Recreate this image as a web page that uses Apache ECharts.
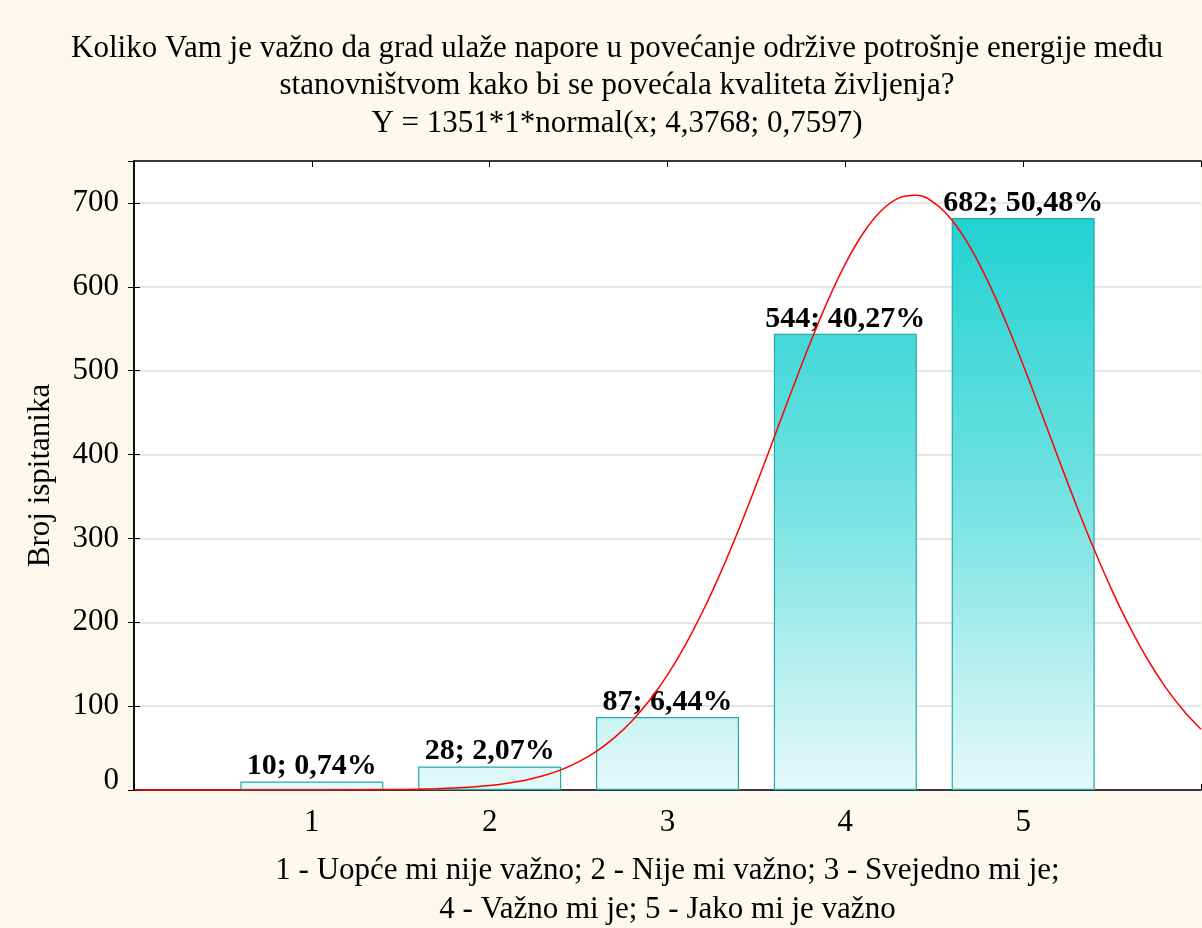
<!DOCTYPE html>
<html>
<head>
<meta charset="utf-8">
<script src="https://cdn.jsdelivr.net/npm/echarts@6/dist/echarts.min.js"></script>
<style>
  html, body { margin: 0; padding: 0; background: #fdf8ee; }
  #chart { width: 1202px; height: 928px; }
</style>
</head>
<body>
<div id="chart"></div>
<script>
// odgovori (1-5) i broj ispitanika
const categories = [1, 2, 3, 4, 5];
const counts = [10, 28, 87, 544, 682];
const percents = ['0,74', '2,07', '6,44', '40,27', '50,48'];

// normalna krivulja, ocitano sa slike: Y = 1351*1*normal(x; 4,3768; 0,7597)
const curveX = [0, 1.0, 1.5, 1.6, 1.7, 1.8, 1.9, 2.0, 2.1, 2.2, 2.3, 2.4, 2.5, 2.6, 2.7, 2.8, 2.9,
  3.0, 3.1, 3.2, 3.3, 3.4, 3.5, 3.6, 3.7, 3.8, 3.9, 4.0, 4.1, 4.2, 4.3, 4.4, 4.5, 4.6, 4.7, 4.8, 4.9,
  5.0, 5.1, 5.2, 5.3, 5.4, 5.5, 5.6, 5.7, 5.8, 5.9, 6.0];
const curveY = [0, 0.04, 0.55, 0.89, 1.43, 2.25, 3.49, 5.31, 7.96, 11.7, 16.9, 24.0, 33.6, 46.0, 62.1, 82.3, 107.3,
  137.3, 172.8, 213.7, 259.8, 310.4, 364.5, 420.6, 477.0, 531.8, 582.6, 627.3, 663.8, 690.4, 705.8, 709.1, 700.1, 679.4, 648.0, 607.4, 559.6,
  506.7, 450.9, 394.4, 339.0, 286.4, 237.8, 194.1, 155.6, 122.7, 95.0, 72.4];

const yTicks = [0, 100, 200, 300, 400, 500, 600, 700];

const FONT = 'Liberation Serif';

const chart = echarts.init(document.getElementById('chart'));

const barFill = {
  type: 'linear', x: 0, y: 160, x2: 0, y2: 790, global: true,
  colorStops: [
    { offset: 0, color: '#0fcfcf' },
    { offset: 0.5, color: '#6ce0e0' },
    { offset: 1, color: '#e6f9f9' }
  ]
};

const option = {
  backgroundColor: '#fdf8ee',
  animation: false,
  title: {
    text: 'Koliko Vam je važno da grad ulaže napore u povećanje održive potrošnje energije među\nstanovništvom kako bi se povećala kvaliteta življenja?\nY = 1351*1*normal(x; 4,3768; 0,7597)',
    left: 612,
    top: 25,
    textAlign: 'center',
    textStyle: {
      fontFamily: FONT,
      fontSize: 31,
      fontWeight: 'normal',
      color: '#000',
      lineHeight: 37.5
    }
  },
  grid: {
    left: 134, top: 161, right: 1, bottom: 138,
    outerBoundsMode: 'none',
    containLabel: false,
    show: true, backgroundColor: '#fff', borderWidth: 0
  },
  xAxis: [{
    type: 'value', min: 0, max: 6, interval: 1,
    name: '1 - Uopće mi nije važno; 2 - Nije mi važno; 3 - Svejedno mi je;\n4 - Važno mi je; 5 - Jako mi je važno',
    nameLocation: 'middle',
    nameGap: 61,
    nameTextStyle: { fontFamily: FONT, fontSize: 31, color: '#000', lineHeight: 39 },
    axisLine: { show: true, lineStyle: { color: '#000', width: 1.5 } },
    axisTick: { show: true, inside: true, length: 6, lineStyle: { color: '#000' } },
    splitLine: { show: false },
    axisLabel: {
      fontFamily: FONT, fontSize: 31, color: '#000', margin: 17,
      formatter: v => categories.indexOf(v) >= 0 ? String(v) : ''
    }
  }, {
    type: 'value', min: 0, max: 6, interval: 1, position: 'top',
    axisLine: { show: true, onZero: false, lineStyle: { color: '#000', width: 1.5 } },
    axisTick: { show: true, inside: true, length: 6, lineStyle: { color: '#000' } },
    axisLabel: { show: false },
    splitLine: { show: false }
  }],
  yAxis: [{
    type: 'value', min: 0, max: 750, interval: 100,
    name: 'Broj ispitanika',
    nameLocation: 'middle',
    nameGap: 78,
    nameTextStyle: { fontFamily: FONT, fontSize: 31, color: '#000' },
    axisLine: { show: true, lineStyle: { color: '#000', width: 1.5 } },
    axisTick: { show: true, inside: true, length: 6, lineStyle: { color: '#000' } },
    splitLine: { show: true, lineStyle: { color: '#dcdcdc', width: 1.5 } },
    axisLabel: {
      fontFamily: FONT, fontSize: 31, color: '#000', margin: 15,
      showMaxLabel: false,
      formatter: v => {
        if (yTicks.indexOf(v) < 0) return '';
        return v === 0 ? '{z|0}' : String(v);
      },
      rich: { z: { fontFamily: FONT, fontSize: 31, color: '#000', padding: [0, 0, 18, 0] } }
    }
  }, {
    type: 'value', min: 0, max: 750, interval: 100, position: 'right',
    axisLine: { show: true, lineStyle: { color: '#000', width: 1.5 } },
    axisTick: { show: true, inside: true, length: 6, lineStyle: { color: '#000' } },
    axisLabel: { show: false },
    splitLine: { show: false }
  }],
  series: [{
    type: 'bar',
    xAxisIndex: 0, yAxisIndex: 0,
    barWidth: 143,
    data: categories.map((c, i) => [c, counts[i]]),
    itemStyle: { color: barFill, borderColor: '#25aaaa', borderWidth: 1.2 },
    label: {
      show: true, position: 'top', distance: 0,
      fontFamily: FONT, fontSize: 30, fontWeight: 'bold', color: '#000',
      formatter: p => counts[p.dataIndex] + '; ' + percents[p.dataIndex] + '%'
    },
    z: 2
  }, {
    type: 'line',
    xAxisIndex: 0, yAxisIndex: 0,
    data: curveX.map((x, i) => [x, curveY[i]]),
    smooth: 0.4,
    symbol: 'none',
    lineStyle: { color: '#ff0000', width: 1.5 },
    clip: true,
    z: 3
  }]
};

chart.setOption(option);
</script>
</body>
</html>
